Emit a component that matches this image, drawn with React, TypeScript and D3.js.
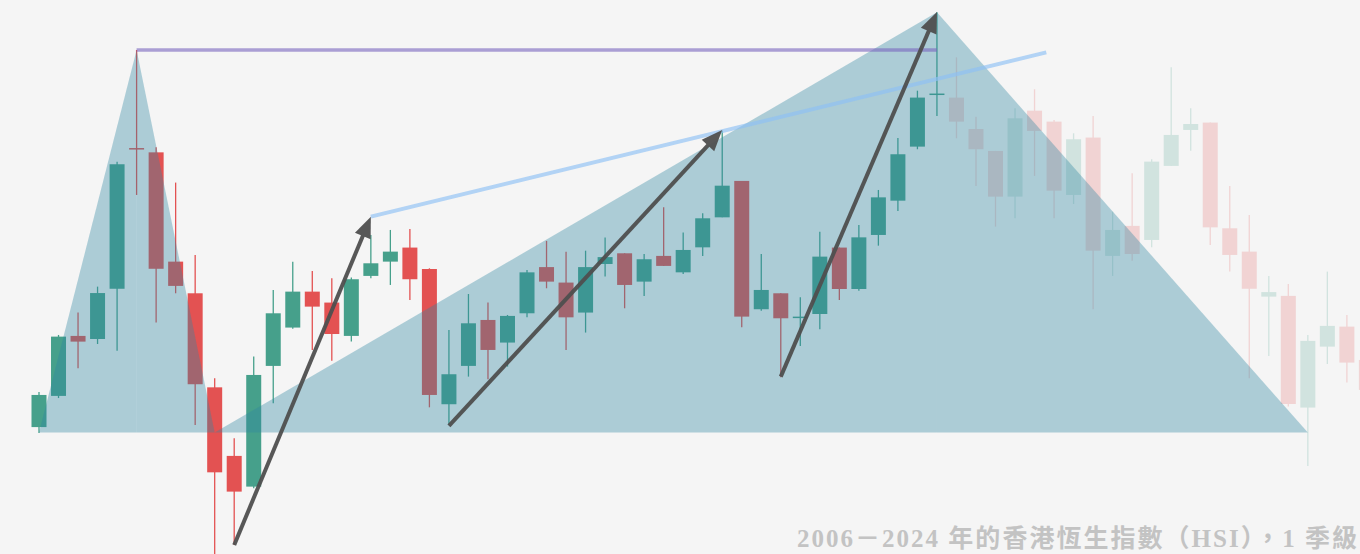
import React from "react";
import * as d3 from "d3";

// quarterly candles, Hang Seng Index
const quarters = [
  "2006Q3", "2006Q4", "2007Q1", "2007Q2", "2007Q3", "2007Q4", "2008Q1", "2008Q2",
  "2008Q3", "2008Q4", "2009Q1", "2009Q2", "2009Q3", "2009Q4", "2010Q1", "2010Q2",
  "2010Q3", "2010Q4", "2011Q1", "2011Q2", "2011Q3", "2011Q4", "2012Q1", "2012Q2",
  "2012Q3", "2012Q4", "2013Q1", "2013Q2", "2013Q3", "2013Q4", "2014Q1", "2014Q2",
  "2014Q3", "2014Q4", "2015Q1", "2015Q2", "2015Q3", "2015Q4", "2016Q1", "2016Q2",
  "2016Q3", "2016Q4", "2017Q1", "2017Q2", "2017Q3", "2017Q4", "2018Q1", "2018Q2",
  "2018Q3", "2018Q4", "2019Q1", "2019Q2", "2019Q3", "2019Q4", "2020Q1", "2020Q2",
  "2020Q3", "2020Q4", "2021Q1", "2021Q2", "2021Q3", "2021Q4", "2022Q1", "2022Q2",
  "2022Q3", "2022Q4", "2023Q1", "2023Q2", "2023Q3",
];

const open = [
  16120, 17430, 19950, 19820, 21930, 27840, 27660, 23070, 21740, 17790, 14910, 13620,
  18690, 20300, 21810, 21350, 19950, 22470, 23070, 23660, 22760, 17080, 18690, 20620,
  19670, 20900, 22840, 22190, 20930, 22970, 23420, 22230, 23310, 22620, 23670, 24930,
  26460, 21070, 21740, 20700, 20870, 23660, 21920, 24190, 25630, 27900, 30070, 29960,
  28640, 27720, 25800, 29410, 28950, 25870, 28280, 23310, 24570, 23980, 27090, 28600,
  28910, 24470, 23490, 21600, 21630, 16940, 19500, 20340, 18940,
];

const high = [
  17590, 19990, 20930, 22020, 27270, 31960, 27870, 26390, 23350, 18170, 15650, 19080,
  21880, 23070, 22680, 22370, 22400, 24190, 24400, 24440, 22790, 20200, 21710, 21350,
  20830, 22720, 23940, 23490, 23530, 24080, 23420, 23390, 25350, 24290, 25100, 28570,
  26460, 23390, 21740, 21570, 24330, 23660, 24610, 26080, 28260, 30250, 33540, 31650,
  29160, 27720, 29510, 30310, 29020, 28460, 29190, 25170, 26780, 27370, 31230, 29510,
  28910, 26250, 25030, 22470, 22130, 19990, 22650, 20830, 20300,
];

const low = [
  15870, 17340, 18590, 19610, 19330, 25870, 20510, 21740, 16210, 10660, 11170, 13550,
  17120, 20250, 19360, 18910, 19710, 22370, 22090, 21460, 16950, 16250, 18240, 18130,
  18660, 20730, 21950, 19360, 20090, 22440, 21110, 21630, 22890, 22550, 23310, 24930,
  20310, 21010, 18210, 19530, 20230, 21460, 21850, 23740, 25200, 27790, 29190, 28250,
  26250, 24540, 24890, 26670, 24890, 25490, 21070, 22470, 23110, 23670, 27090, 27730,
  23770, 22650, 18170, 19110, 16980, 14490, 18770, 17990, 17260,
];

const close = [
  17470, 19920, 19710, 21750, 27160, 27800, 22770, 22050, 17920, 14220, 13410, 18310,
  20900, 21810, 21180, 20030, 22330, 23000, 23490, 22330, 17470, 18340, 20480, 19360,
  20790, 22620, 22230, 20730, 22840, 23260, 22090, 23170, 22890, 23560, 24890, 26260,
  20760, 21880, 20690, 20760, 23280, 21920, 24090, 25770, 27580, 29960, 30130, 28950,
  27790, 25800, 29090, 28560, 26050, 28210, 23530, 24400, 23390, 27270, 28390, 28850,
  24510, 23350, 21930, 21790, 17090, 19740, 20370, 18830, 17680,
];

// candles after this quarter are drawn faded
const fadeFrom = 47;

// [quarter index, price]
const triangles = [
  [[0, 15890], [5, 31960], [9, 15890]],
  [[9, 15890], [46, 33540], [65, 15890]],
];
const peakLine = [[5, 31960], [46, 31960]];
const trendLine = [[17, 24960], [51.6, 31860]];
const arrows = [
  [[10, 11170], [17, 24960]],
  [[21, 16170], [35, 28600]],
  [[38, 18240], [46, 33560]],
];

const title = "2006－2024 年的香港恆生指數（HSI），1 季級";

const W = 1360;
const H = 554;

const App: React.FC = () => {
  const x = d3.scaleLinear().domain([0, quarters.length - 1]).range([39, 1366.4]);
  const y = d3.scaleLinear().domain([10000, 34000]).range([572.8, 1.4]);
  const bodyW = 15;

  const up = "#46a08b";
  const down = "#e35252";

  const line = d3
    .line<number[]>()
    .x((d) => x(d[0]))
    .y((d) => y(d[1]));

  // split each triangle at the apex, two halves
  const halves: number[][][] = [];
  triangles.forEach((t) => {
    const [a, b, c] = t;
    halves.push([a, b, [b[0], a[1]]]);
    halves.push([[b[0], c[1]], b, c]);
  });

  const arrowShapes = arrows.map((a) => {
    const x0 = x(a[0][0]);
    const y0 = y(a[0][1]);
    const x1 = x(a[1][0]);
    const y1 = y(a[1][1]);
    const len = Math.hypot(x1 - x0, y1 - y0);
    const ux = (x1 - x0) / len;
    const uy = (y1 - y0) / len;
    const hl = 21;
    const hw = 8.5;
    const bx = x1 - ux * hl;
    const by = y1 - uy * hl;
    const head = [
      [x1, y1],
      [bx - uy * hw, by + ux * hw],
      [bx + uy * hw, by - ux * hw],
    ];
    return { x0, y0, bx: x1 - ux * (hl - 2), by: y1 - uy * (hl - 2), head };
  });

  return (
    <svg
      width={W}
      height={H}
      style={{ position: "fixed", left: 0, top: 0, display: "block" }}
    >
      <rect width={W} height={H} fill="#f5f5f5" />

      {/* candles */}
      <g>
        {quarters.map((q, i) => {
          const o = open[i];
          const c = close[i];
          const col = c >= o ? up : down;
          const top = y(Math.max(o, c));
          const bot = y(Math.min(o, c));
          const cx = x(i);
          return (
            <g key={q} opacity={i >= fadeFrom ? 0.2 : 1}>
              <line
                x1={cx}
                x2={cx}
                y1={y(high[i])}
                y2={y(low[i])}
                stroke={col}
                strokeWidth={1.3}
              />
              <rect
                x={cx - bodyW / 2}
                y={top}
                width={bodyW}
                height={Math.max(bot - top, 1.5)}
                fill={col}
              />
            </g>
          );
        })}
      </g>

      {/* shaded triangles */}
      <g>
        {halves.map((h, i) => (
          <path
            key={i}
            d={line(h) + "Z"}
            fill="rgb(47,135,163)"
            fillOpacity={0.364}
          />
        ))}
      </g>

      <path
        d={line(peakLine) || ""}
        stroke="rgb(120,100,190)"
        strokeOpacity={0.6}
        strokeWidth={3.5}
        fill="none"
      />
      <path
        d={line(trendLine) || ""}
        stroke="#8ec0f5"
        strokeOpacity={0.65}
        strokeWidth={4}
        fill="none"
      />

      {/* arrows */}
      <g opacity={0.95}>
        {arrowShapes.map((a, i) => (
          <g key={i}>
            <line
              x1={a.x0}
              y1={a.y0}
              x2={a.bx}
              y2={a.by}
              stroke="#4f4f4f"
              strokeWidth={4}
            />
            <polygon
              points={a.head.map((p) => p.join(",")).join(" ")}
              fill="#4f4f4f"
            />
          </g>
        ))}
      </g>

      <text
        x={797}
        y={547}
        fontSize={25}
        fontWeight="bold"
        fill="#c3c3c3"
        fontFamily="'Liberation Serif', 'Noto Sans CJK TC', serif"
        textLength={560}
        lengthAdjust="spacing"
      >
        {title}
      </text>
    </svg>
  );
};

export default App;
